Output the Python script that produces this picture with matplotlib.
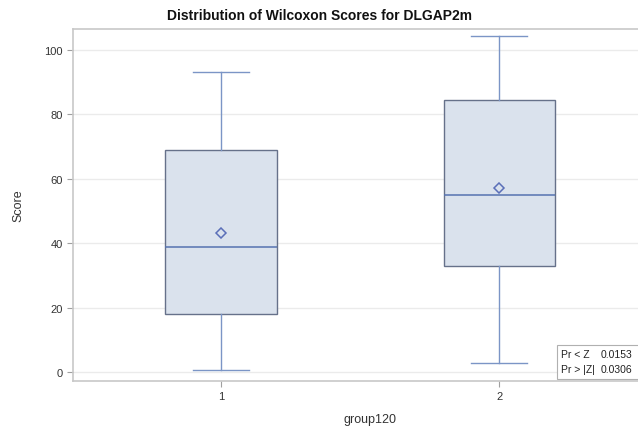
import matplotlib.pyplot as plt
from matplotlib.patches import Rectangle

plt.rcParams['font.family'] = ['Liberation Sans', 'DejaVu Sans']

groups = ['1', '2']
whislo = [0.6, 2.8]
q1 = [18.0, 32.9]
med = [38.8, 55.0]
mean = [43.2, 57.1]
q3 = [69.0, 84.5]
whishi = [93.2, 104.3]
stat_labels = ['Pr < Z', 'Pr > |Z|']
stat_values = ['0.0153', '0.0306']

W, H = 638, 427
fig = plt.figure(figsize=(W / 100, H / 100), dpi=100)
ax = fig.add_axes([73 / W, 1 - 382 / H, 593 / W, 352 / H])

stats = []
for i, g in enumerate(groups):
    stats.append(dict(label=g, whislo=whislo[i], q1=q1[i], med=med[i],
                      mean=mean[i], q3=q3[i], whishi=whishi[i], fliers=[]))

ax.bxp(stats, positions=[1, 2], widths=0.4, patch_artist=True, showmeans=True,
       boxprops=dict(facecolor='#dae2ed', edgecolor='#66718a', linewidth=1.0),
       medianprops=dict(color='#5673b0', linewidth=1.1),
       whiskerprops=dict(color='#7b95c6', linewidth=1.0),
       capprops=dict(color='#7b95c6', linewidth=1.0),
       meanprops=dict(marker='D', markersize=5, markerfacecolor='none',
                      markeredgecolor='#5a6fb8', markeredgewidth=1.1),
       capwidths=0.2)

ax.set_xlim(0.4676, 2.6)
ax.set_ylim(-2.8, 106.5)
ax.set_yticks([0, 20, 40, 60, 80, 100])
ax.yaxis.grid(True, color='#ebebeb', linewidth=1)
ax.set_axisbelow(True)
for s in ax.spines.values():
    s.set_color('#c8c8c8')
    s.set_linewidth(1.2)
ax.tick_params(colors='#a0a0a0', labelcolor='#333333', labelsize=8, length=4)
ax.set_xlabel('group120', fontsize=9, color='#333333', labelpad=8)
ax.set_ylabel('Score', fontsize=9, color='#333333', labelpad=14)

fig.text(320 / W, 1 - 16 / H, 'Distribution of Wilcoxon Scores for DLGAP2m',
         ha='center', va='center', fontsize=10, fontweight='bold', color='#111111')

# inset stats box
fig.patches.append(Rectangle((557 / W, 1 - 380 / H), 90 / W, 34 / H,
                             transform=fig.transFigure, facecolor='white',
                             edgecolor='#b0b0b0', linewidth=0.8))
for i, (lab, val) in enumerate(zip(stat_labels, stat_values)):
    y = 1 - (355 + 15 * i) / H
    fig.text(561 / W, y, lab, fontsize=7.5, va='center', color='#222222')
    fig.text(601 / W, y, val, fontsize=7.5, va='center', color='#222222')

fig.savefig('out.png', dpi=100)
